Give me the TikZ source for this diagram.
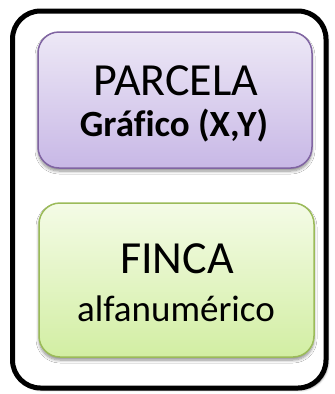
\documentclass[tikz,border=0pt]{standalone}
\usepackage{fontspec}
\setmainfont{Carlito}[Ligatures=NoCommon]
\usetikzlibrary{shadows.blur}
\definecolor{purpleline}{HTML}{8064A2}
\definecolor{purpletop}{HTML}{EDE8F6}
\definecolor{purplebot}{HTML}{C8B8E6}
\definecolor{greenline}{HTML}{9BBB59}
\definecolor{greentop}{HTML}{F4FBE6}
\definecolor{greenbot}{HTML}{D2EEA3}
\tikzset{
  outerbox/.style={draw=black, line width=5pt, fill=white, rounded corners=28pt,
    blur shadow={shadow xshift=2pt, shadow yshift=-2pt, shadow blur steps=4, shadow blur radius=2pt, shadow opacity=45}},
  innerbox/.style={line width=1.5pt, rounded corners=21pt,
    blur shadow={shadow xshift=0pt, shadow yshift=-3pt, shadow blur steps=6, shadow blur radius=3pt, shadow opacity=45}},
  titletext/.style={anchor=base, inner sep=0pt, font=\fontsize{46}{46}\selectfont},
  subtext/.style={anchor=base, inner sep=0pt, font=\fontsize{37}{37}\selectfont},
}
\begin{document}
\begin{tikzpicture}[x=1pt,y=-1pt]
\useasboundingbox (0,0) rectangle (335,394);
\node[outerbox, minimum width=313.5pt, minimum height=377pt, inner sep=0pt] (outer) at (169.25,199.5) {};
\node[innerbox, draw=purpleline, top color=purpletop, bottom color=purplebot,
  minimum width=274pt, minimum height=136pt, inner sep=0pt] (parcela) at (175,100) {};
\node[innerbox, draw=greenline, top color=greentop, bottom color=greenbot,
  minimum width=275pt, minimum height=154pt, inner sep=0pt] (finca) at (176.5,280) {};
\node[titletext] (t1) at (176,95) {PARCELA};
\node[subtext, font=\fontsize{37}{37}\selectfont\bfseries] (s1) at (174,136) {Gráfico (X,Y)};
\node[titletext] (t2) at (177,273) {FINCA};
\node[subtext] (s2) at (176,321) {alfanumérico};
\end{tikzpicture}
\end{document}
